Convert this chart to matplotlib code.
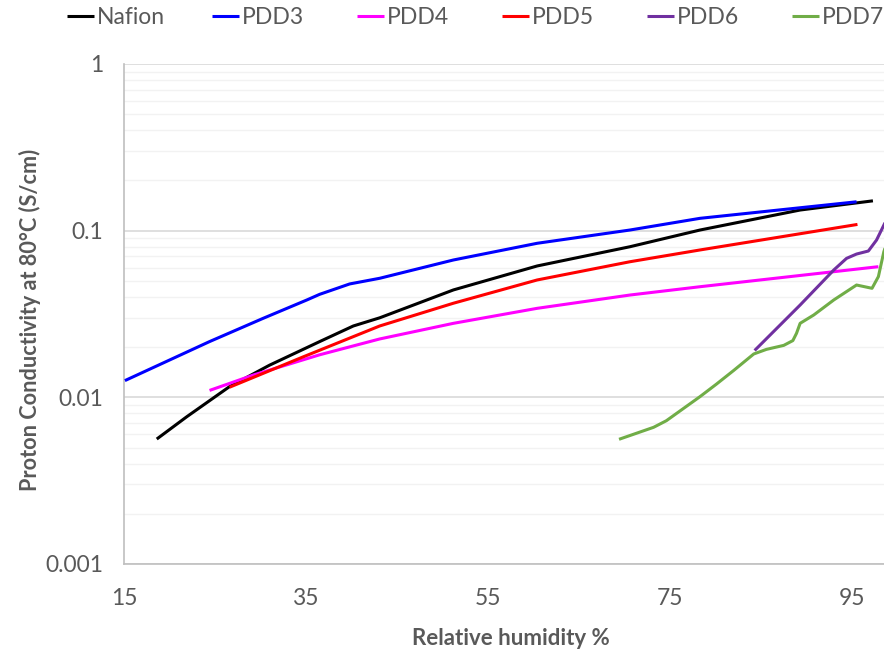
import matplotlib
matplotlib.use('Agg')
import matplotlib.pyplot as plt
import numpy as np
from matplotlib.ticker import LogLocator, FuncFormatter, NullFormatter

plt.rcParams['font.family'] = ['Lato', 'DejaVu Sans']

# dados (umidade relativa %, condutividade S/cm)
nafion_x = [18.6, 21.9, 26.6, 31.0, 36.5, 40.2, 43.1, 51.2, 60.4, 70.6, 78.3, 89.3, 97.3]
nafion_y = [0.00562, 0.00765, 0.0116, 0.0156, 0.0216, 0.0268, 0.0300, 0.0441, 0.0614, 0.0801, 0.1009, 0.133, 0.151]

pdd3_x = [15.1, 24.4, 30.3, 35.1, 36.5, 39.8, 43.1, 51.2, 60.4, 70.6, 78.3, 95.5]
pdd3_y = [0.0126, 0.0216, 0.0298, 0.0384, 0.0415, 0.0479, 0.0518, 0.0667, 0.0840, 0.1009, 0.1186, 0.149]

pdd4_x = [24.4, 29.2, 36.5, 43.1, 51.2, 60.4, 70.6, 78.3, 97.9]
pdd4_y = [0.0110, 0.0136, 0.0180, 0.0224, 0.0278, 0.0342, 0.0411, 0.0461, 0.0608]

pdd5_x = [26.6, 34.7, 43.1, 51.2, 60.4, 70.6, 78.3, 95.6]
pdd5_y = [0.0115, 0.0175, 0.0268, 0.0367, 0.0506, 0.0651, 0.0766, 0.109]

pdd6_x = [84.3, 89.3, 93.0, 94.4, 95.5, 96.8, 97.7, 98.5, 99.5]
pdd6_y = [0.0191, 0.0358, 0.0581, 0.0682, 0.0724, 0.0755, 0.0879, 0.108, 0.14]

pdd7_x = [69.4, 73.2, 74.6, 76.5, 78.3, 80.1, 82.0, 84.2, 85.6, 87.5, 88.5, 88.9, 89.3,
          90.8, 93.0, 95.5, 97.2, 97.9, 98.5, 99.5]
pdd7_y = [0.0056, 0.00661, 0.00724, 0.00859, 0.0101, 0.0120, 0.0145, 0.0182, 0.0194, 0.0205,
          0.0219, 0.0242, 0.0278, 0.0312, 0.0384, 0.0472, 0.0451, 0.053, 0.0748, 0.11]

series = [
    ('Nafion', nafion_x, nafion_y, 'black'),
    ('PDD3', pdd3_x, pdd3_y, '#0000FF'),
    ('PDD4', pdd4_x, pdd4_y, '#FF00FF'),
    ('PDD5', pdd5_x, pdd5_y, '#FF0000'),
    ('PDD6', pdd6_x, pdd6_y, '#7030A0'),
    ('PDD7', pdd7_x, pdd7_y, '#70AD47'),
]

cinza = '#595959'

fig = plt.figure(figsize=(8.84, 6.52), dpi=100)
# area do grafico vai alem da borda direita (imagem cortada)
ax = fig.add_axes([124/884, 88/652, 773.5/884, 500/652])

linhas = []
for nome, x, y, cor in series:
    l, = ax.plot(x, y, color=cor, lw=2.2, solid_capstyle='butt', zorder=3)
    linhas.append((l, nome))

ax.set_yscale('log')
ax.set_ylim(0.001, 1)
ax.set_xlim(15, 100)
ax.set_xticks([15, 35, 55, 75, 95])
ax.yaxis.set_major_locator(LogLocator(base=10))
ax.yaxis.set_minor_locator(LogLocator(base=10, subs=np.arange(2, 10)))
ax.yaxis.set_major_formatter(FuncFormatter(lambda v, p: '{:g}'.format(v)))
ax.yaxis.set_minor_formatter(NullFormatter())

# grades
ax.grid(True, which='major', axis='y', color='#D9D9D9', lw=1.2)
ax.grid(True, which='minor', axis='y', color='#F2F2F2', lw=1.0)
ax.set_axisbelow(True)

for s in ['top', 'right']:
    ax.spines[s].set_visible(False)
for s in ['left', 'bottom']:
    ax.spines[s].set_color('#BFBFBF')
    ax.spines[s].set_linewidth(1.2)

ax.tick_params(which='both', length=0, colors=cinza, labelsize=16.4)
ax.tick_params(axis='x', pad=17)
ax.tick_params(axis='y', pad=15)

ax.set_xlabel('Relative humidity %', fontsize=16, fontweight='bold', color=cinza, labelpad=14)
fig.text(30/884, 1 - 320/652, 'Proton Conductivity at 80°C (S/cm)', rotation=90,
         fontsize=15.6, fontweight='bold', color=cinza, ha='center', va='center')

# legenda: itens com espacamento uniforme no topo
for i, (l, nome) in enumerate(linhas):
    xpos = (66.5 + i*145.1) / 884
    leg = fig.legend([l], [nome], loc='center left', bbox_to_anchor=(xpos, 1 - 18/652),
                     frameon=False, handlelength=1.18, handletextpad=0.13,
                     borderpad=0, borderaxespad=0, fontsize=16.5)
    for t in leg.get_texts():
        t.set_color(cinza)

plt.savefig('out.png', dpi=100)
